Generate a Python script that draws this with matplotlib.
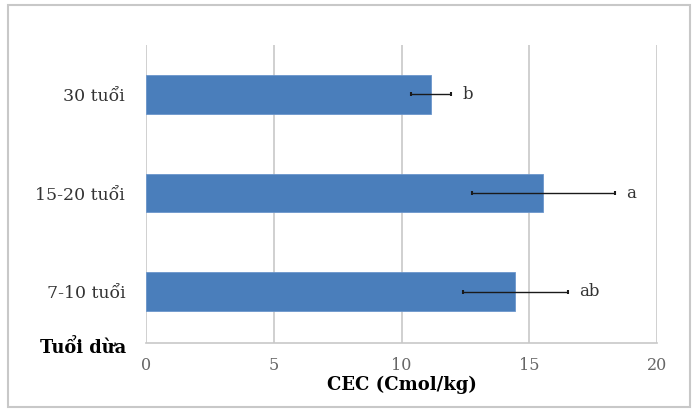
import matplotlib.pyplot as plt
from matplotlib.patches import Rectangle

# so lieu
nhom = ['7-10 tuổi', '15-20 tuổi', '30 tuổi']
cec = [14.45, 15.55, 11.15]
sai_so = [2.05, 2.8, 0.78]
chu_cai = ['ab', 'a', 'b']
x_ticks = [0, 5, 10, 15, 20]

# chu ngang rong nhu hinh goc
plt.rcParams['font.family'] = ['DejaVu Serif']

fig = plt.figure(figsize=(6.94, 4.12), dpi=100)
ax = fig.add_axes([0.2104, 0.1675, 0.7363, 0.7233])

# khung ngoai
fig.patches.append(Rectangle((0.012, 0.012), 0.982, 0.975, transform=fig.transFigure,
                             fill=False, edgecolor='#c8c8c8', linewidth=1.5))

y = range(len(nhom))
ax.barh(y, cec, height=0.39, color='#4a7ebb', edgecolor='#6b96cc', linewidth=0.6, zorder=2)
ax.errorbar(cec, y, xerr=sai_so, fmt='none', ecolor='#1a1a1a', elinewidth=1.0,
            capsize=1.5, capthick=1.5, zorder=3)
for yi, v, e, t in zip(y, cec, sai_so, chu_cai):
    ax.text(v + e + 0.45, yi, t, va='center', ha='left', fontsize=12, color='#333333')

ax.set_xlim(0, 20)
ax.set_ylim(-0.52, 2.5)
ax.set_xticks(x_ticks)
ax.set_yticks(list(y))
ax.set_yticklabels(nhom, fontsize=12.5, color='#333333')
ax.tick_params(axis='x', labelsize=11.5, labelcolor='#666666', length=0, pad=10)
ax.tick_params(axis='y', length=0, pad=15)
ax.grid(axis='x', color='#c8c8c8', linewidth=1.2, zorder=0)
for s in ['top', 'right', 'left']:
    ax.spines[s].set_visible(False)
ax.spines['bottom'].set_color('#c8c8c8')
ax.spines['bottom'].set_linewidth(1.2)

ax.set_xlabel('CEC (Cmol/kg)', fontsize=13, fontweight='bold', labelpad=1)
fig.text(0.058, 1 - 348 / 412, 'Tuổi dừa', fontsize=12.8, fontweight='bold', va='center', ha='left')

plt.savefig('out.png', dpi=100)
